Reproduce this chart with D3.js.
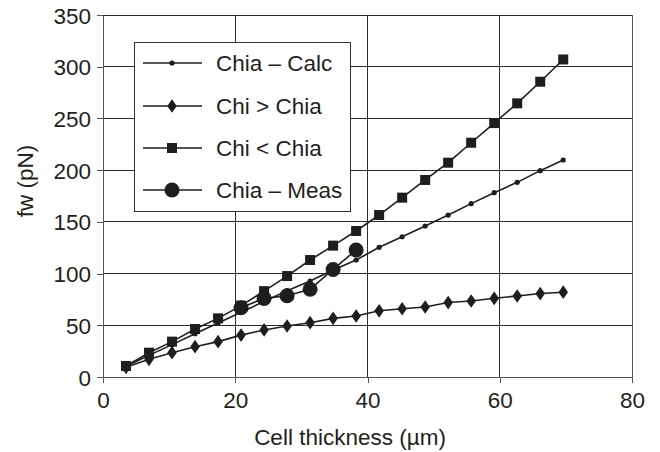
<!DOCTYPE html>
<html>
<head>
<meta charset="utf-8">
<script src="https://cdn.jsdelivr.net/npm/d3@7"></script>
<style>
  html, body { margin: 0; padding: 0; background: #fff; }
  svg { display: block; }
  text { font-family: "Liberation Sans", Arial, sans-serif; fill: #231f20; }
</style>
</head>
<body>
<svg id="chart" width="660" height="452"></svg>
<script>
// ---- data ----
const thickness = [3.48, 6.96, 10.44, 13.92, 17.4, 20.88, 24.36, 27.84, 31.32, 34.8,
                   38.28, 41.76, 45.24, 48.72, 52.2, 55.68, 59.16, 62.64, 66.12, 69.6];
const chiaCalc  = [10.4, 20.9, 31.3, 41.8, 52.2, 62.6, 73, 83.5, 92.8, 103.5,
                   113.1, 125.4, 135.6, 146, 156.6, 167.6, 178.2, 188.2, 199.5, 209.8];
const chiGreater = [9.4, 17.1, 23.5, 29.3, 34.2, 40.5, 45.5, 49.3, 52.5, 56.7,
                    59, 64, 66, 67.7, 72, 73.5, 76.1, 78.3, 80.7, 82];
const chiLess   = [10.6, 23.5, 34.2, 46.4, 56.7, 69, 83, 97.6, 113.1, 127,
                   141.2, 156.6, 173.4, 190.5, 207.2, 226.5, 245.5, 264.6, 285.5, 307];
const measThickness = [20.88, 24.36, 27.84, 31.32, 34.8, 38.28];
const chiaMeas  = [67, 76, 78.5, 84.8, 104, 122.8];

const xTicks = [0, 20, 40, 60, 80];
const yTicks = [0, 50, 100, 150, 200, 250, 300, 350];
const seriesNames = ["Chia \u2013 Calc", "Chi > Chia", "Chi < Chia", "Chia \u2013 Meas"];
const xTitle = "Cell thickness (\u00b5m)";
const yTitle = "fw (pN)";

// ---- layout ----
const L = 103, R = 632, T = 15, B = 377;
const svg = d3.select("#chart");
const x = d3.scaleLinear().domain([0, 80]).range([L, R]);
const y = d3.scaleLinear().domain([0, 350]).range([B, T]);
const ink = "#1e1e1e";
const fontSize = "22.5px";

// gridlines
const grid = svg.append("g");
grid.selectAll("line.h").data(yTicks.filter(d => d > 0)).join("line")
  .attr("x1", L).attr("x2", R).attr("y1", d => y(d)).attr("y2", d => y(d))
  .attr("stroke", "#2a2a2a").attr("stroke-width", 1).attr("shape-rendering", "crispEdges");
grid.selectAll("line.v").data(xTicks.filter(d => d > 0)).join("line")
  .attr("y1", T).attr("y2", B).attr("x1", d => x(d)).attr("x2", d => x(d))
  .attr("stroke", "#2a2a2a").attr("stroke-width", 1).attr("shape-rendering", "crispEdges");

// axes
const yAxis = svg.append("g").attr("transform", `translate(${L},0)`)
  .call(d3.axisLeft(y).tickValues(yTicks).tickSize(6).tickPadding(6).tickSizeOuter(0));
const xAxis = svg.append("g").attr("transform", `translate(0,${B})`)
  .call(d3.axisBottom(x).tickValues(xTicks).tickSize(6).tickPadding(9).tickSizeOuter(0));
[xAxis, yAxis].forEach(a => {
  a.select(".domain").attr("stroke", "#555").attr("shape-rendering", "crispEdges");
  a.selectAll(".tick line").attr("stroke", "#555").attr("shape-rendering", "crispEdges");
  a.selectAll(".tick text").style("font-size", fontSize)
    .style("font-family", "'Liberation Sans', Arial, sans-serif").attr("fill", "#231f20");
});
yAxis.selectAll(".tick text").attr("dy", "0.36em");

// axis titles
svg.append("text").attr("x", 350).attr("y", 445).attr("text-anchor", "middle")
  .style("font-size", fontSize).text(xTitle);
svg.append("text").attr("transform", "translate(33,181) rotate(-90)")
  .attr("text-anchor", "middle").style("font-size", fontSize).text(yTitle);

// marker drawers
function drawMarker(g, kind, cx, cy) {
  if (kind === 0) {
    g.append("circle").attr("cx", cx).attr("cy", cy).attr("r", 2.6).attr("fill", ink);
  } else if (kind === 1) {
    g.append("path").attr("d", d3.symbol(d3.symbolDiamond, 60)())
      .attr("transform", `translate(${cx},${cy}) scale(1.15,0.95)`).attr("fill", ink);
  } else if (kind === 2) {
    g.append("rect").attr("x", cx - 5).attr("y", cy - 5).attr("width", 10).attr("height", 10).attr("fill", ink);
  } else {
    g.append("circle").attr("cx", cx).attr("cy", cy).attr("r", 7.5).attr("fill", ink);
  }
}

const line = d3.line().x(d => x(d[0])).y(d => y(d[1]));
const seriesData = [
  thickness.map((t, i) => [t, chiaCalc[i]]),
  thickness.map((t, i) => [t, chiGreater[i]]),
  thickness.map((t, i) => [t, chiLess[i]]),
  measThickness.map((t, i) => [t, chiaMeas[i]])
];

const plot = svg.append("g");
seriesData.forEach((data, k) => {
  const g = plot.append("g");
  g.append("path").datum(data).attr("d", line).attr("fill", "none")
    .attr("stroke", ink).attr("stroke-width", 1.6);
  data.forEach(d => drawMarker(g, k, x(d[0]), y(d[1])));
});

// frame top/right
svg.append("line").attr("x1", L).attr("x2", R).attr("y1", T).attr("y2", T)
  .attr("stroke", "#2a2a2a").attr("shape-rendering", "crispEdges");
svg.append("line").attr("x1", R).attr("x2", R).attr("y1", T).attr("y2", B)
  .attr("stroke", "#555").attr("shape-rendering", "crispEdges");

// legend
const lg = svg.append("g");
lg.append("rect").attr("x", 134.5).attr("y", 42.5).attr("width", 216).attr("height", 169)
  .attr("fill", "#fff").attr("stroke", "#333").attr("stroke-width", 1);
const rowY = [63, 106, 148, 190];
seriesNames.forEach((name, k) => {
  const cy = rowY[k];
  lg.append("line").attr("x1", 143).attr("x2", 202).attr("y1", cy).attr("y2", cy)
    .attr("stroke", ink).attr("stroke-width", 1.6);
  drawMarker(lg, k, 172, cy);
  lg.append("text").attr("x", 216).attr("y", cy + 8).style("font-size", fontSize).text(name);
});
</script>
</body>
</html>
